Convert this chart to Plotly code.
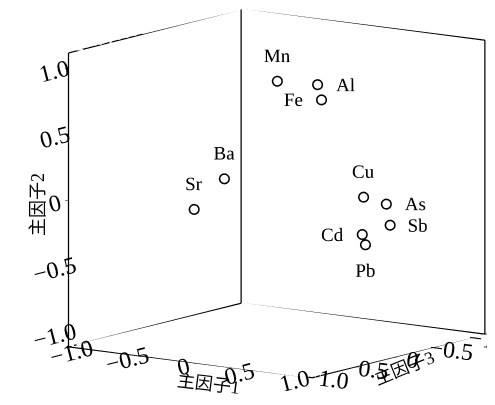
import plotly.graph_objects as go
import math

# Data: factor loadings (主因子1, 主因子2, 主因子3)
elements = ["Mn", "Al", "Fe", "Ba", "Sr", "Cu", "As", "Sb", "Cd", "Pb"]
factor1 = [0.10, 0.39, 0.46, 0.15, -0.12, 0.85, 0.90, 0.92, 0.88, 0.86]
factor2 = [0.90, 0.89, 0.79, 0.28, 0.02, 0.10, 0.02, -0.14, -0.17, -0.26]
factor3 = [0.15, 0.05, 0.10, 0.90, 0.90, 0.12, -0.10, -0.12, 0.18, 0.11]
label_pos = ["top center", "middle right", "middle left", "top center", "top center",
             "top center", "middle right", "middle right", "middle left", "bottom center"]

tick_vals = [-1.0, -0.5, 0.0, 0.5, 1.0]
tick_text = ["\u22121.0", "\u22120.5", "0", "0.5", "1.0"]

range1 = [-1.15, 1.03]
range2 = [-1.11, 1.11]
range3 = [-1.18, 1.03]

FONT = "Liberation Serif, Times New Roman, Noto Sans CJK SC, serif"

fig = go.Figure()

# Frame of the 3D box (x = factor3, y = factor1, z = factor2)
x0, x1 = range3
y0, y1 = range1
z0, z1 = range2
N = None
fx = [x1, x1, N, x0, x0, N, x0, x0, N, x1, x1, x0, x0, x1, N, x1, x0, x0]
fy = [y0, y0, N, y0, y0, N, y1, y1, N, y0, y1, y1, y0, y0, N, y0, y0, y1]
fz = [z0, z1, N, z0, z1, N, z0, z1, N, z0, z0, z0, z0, z0, N, z1, z1, z1]
fig.add_trace(go.Scatter3d(x=fx, y=fy, z=fz, mode="lines",
                           line=dict(color="black", width=2.5),
                           connectgaps=False, hoverinfo="skip", showlegend=False))

fig.add_trace(go.Scatter3d(
    x=factor3, y=factor1, z=factor2, mode="markers+text",
    text=elements, textposition=label_pos,
    textfont=dict(family=FONT, size=19, color="black"),
    marker=dict(symbol="circle-open", size=6, color="black", line=dict(color="black", width=1.5)),
    showlegend=False))

axis_common = dict(
    showbackground=False, showgrid=False, zeroline=False, showspikes=False,
    showline=False, ticks="outside", ticklen=6, tickcolor="black", tickwidth=1,
    tickvals=tick_vals, ticktext=tick_text,
    tickfont=dict(family=FONT, size=17, color="black"),
    title=dict(text=""),
)

b = math.radians(35.3)
th = math.radians(10.3)
dist = 2.0
s = 1.56
px_per_unit = 189.5
shift_right_px = 21.0
shift_up_px = 6.0
k = shift_right_px / px_per_unit
sx, sy = k * math.sin(b), -k * math.cos(b)
sz = -shift_up_px / px_per_unit
eye = dict(x=dist * math.cos(th) * math.cos(b) + sx, y=dist * math.cos(th) * math.sin(b) + sy,
           z=dist * math.sin(th) + sz)
center = dict(x=sx, y=sy, z=sz)

fig.update_layout(
    width=495, height=405,
    margin=dict(l=0, r=0, t=0, b=0),
    paper_bgcolor="white",
    font=dict(family=FONT, color="black"),
    scene=dict(
        domain=dict(x=[0.0, 1.0], y=[0.054, 1.0]),
        xaxis=dict(range=range3, **axis_common),
        yaxis=dict(range=range1, **axis_common),
        zaxis=dict(range=range2, **axis_common),
        aspectmode="manual", aspectratio=dict(x=s, y=s, z=s),
        camera=dict(eye=eye, up=dict(x=0, y=0, z=1), center=center,
                    projection=dict(type="orthographic")),
    ),
    annotations=[
        dict(text="主因子2", x=18/495, y=1-197/405, xref="paper", yref="paper",
             showarrow=False, textangle=-90, font=dict(family=FONT, size=18)),
        dict(text="主因子1", x=200/495, y=1-392/405, xref="paper", yref="paper",
             showarrow=False, textangle=7, font=dict(family=FONT, size=18)),
        dict(text="主因子3", x=432/495, y=1-384/405, xref="paper", yref="paper",
             showarrow=False, textangle=-22, font=dict(family=FONT, size=18)),
    ],
)

fig.write_html("out.html")
